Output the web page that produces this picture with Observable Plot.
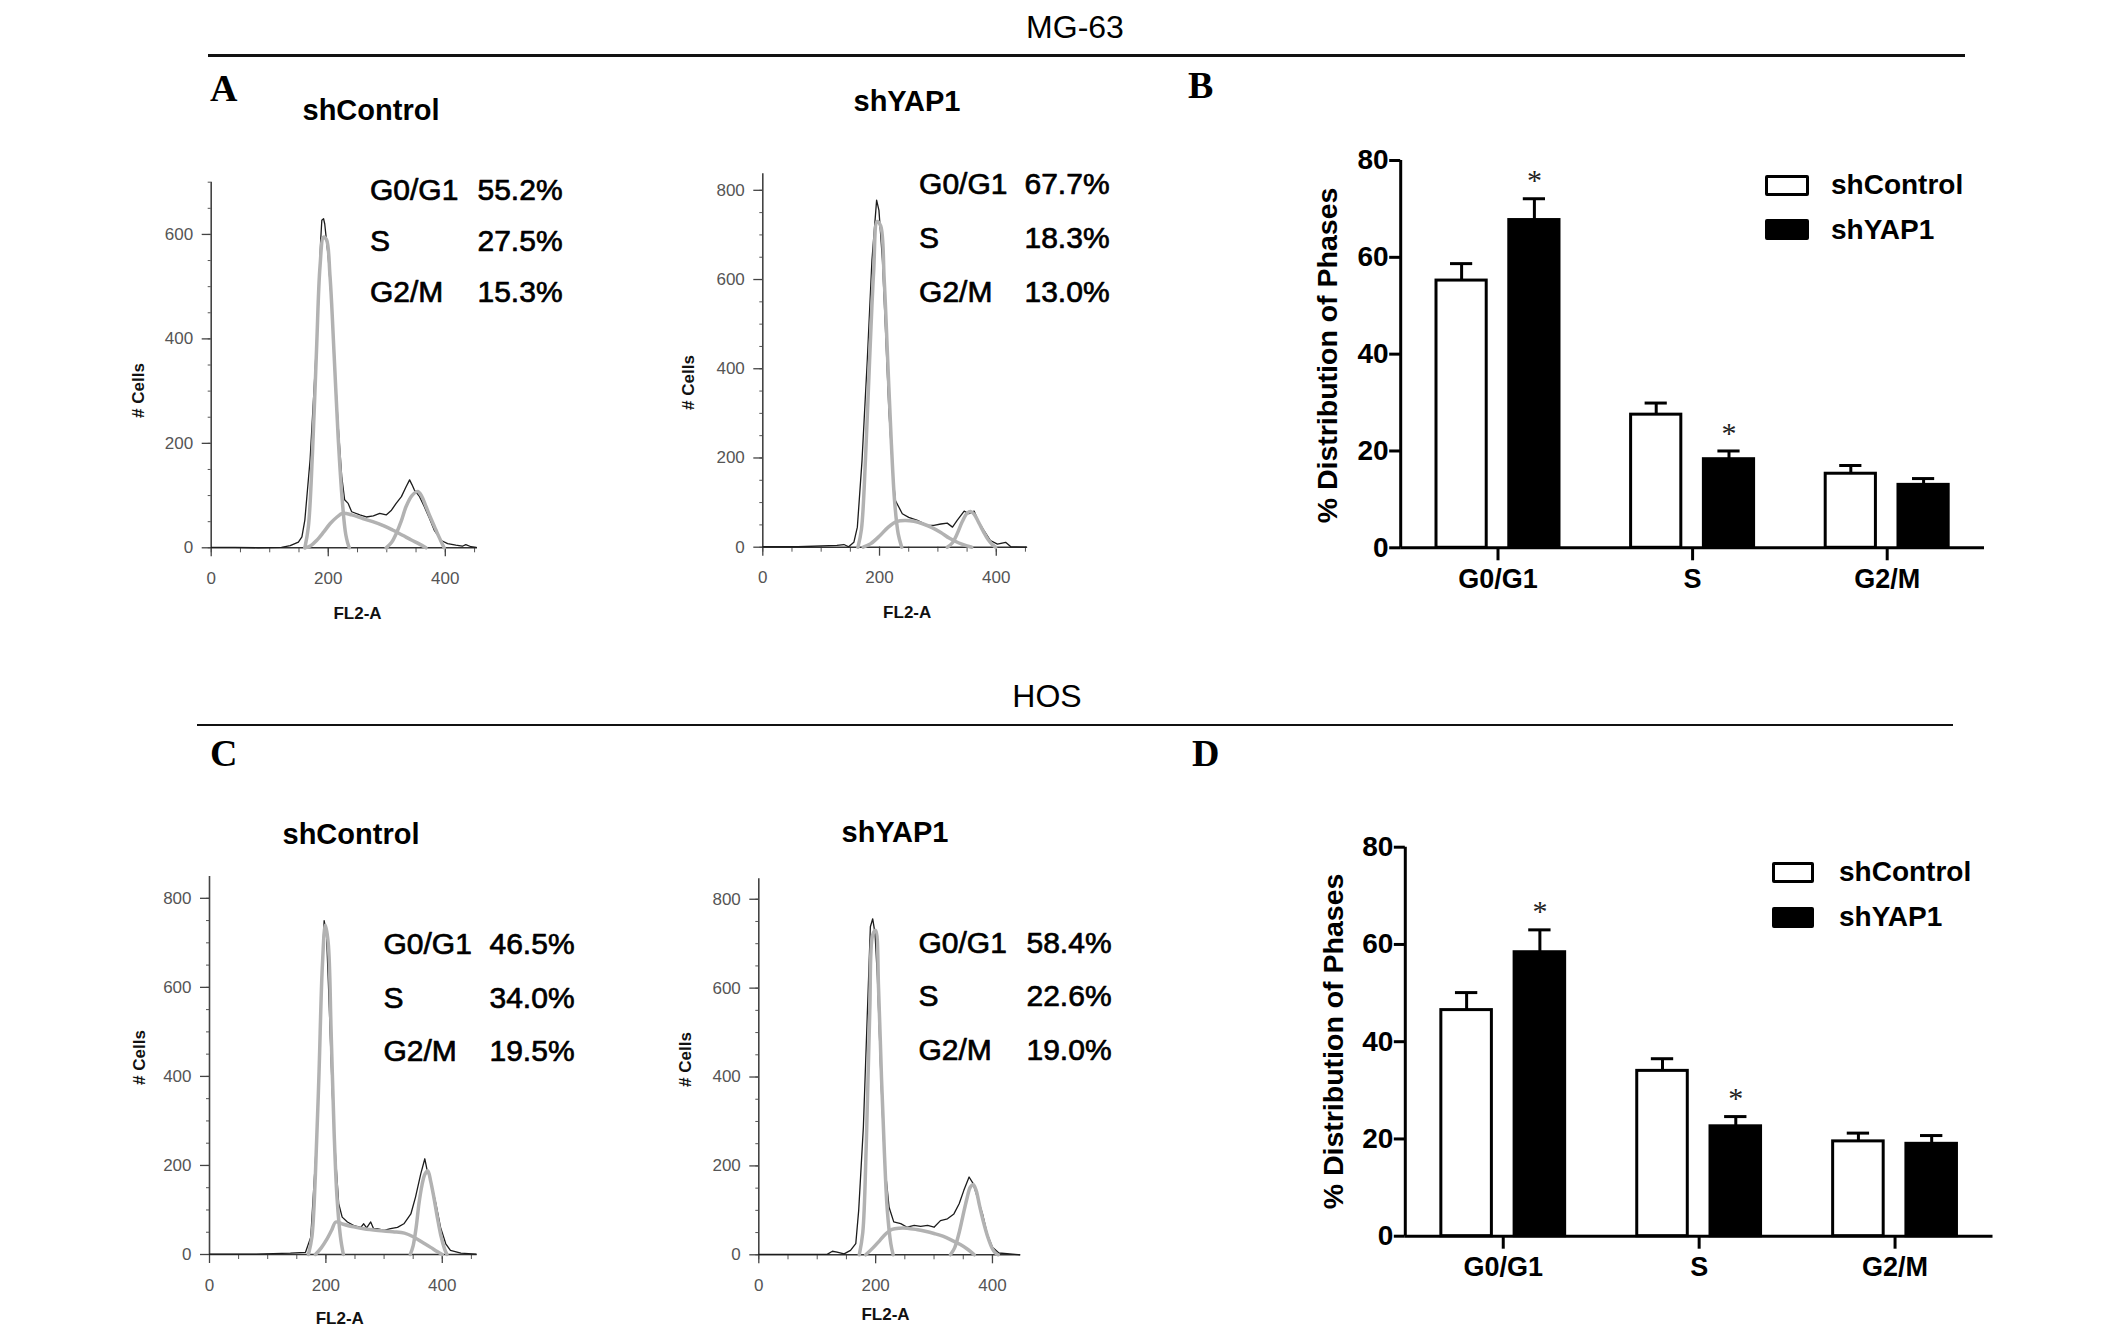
<!DOCTYPE html>
<html><head><meta charset="utf-8">
<script src="https://cdn.jsdelivr.net/npm/d3@7"></script>
<script src="https://cdn.jsdelivr.net/npm/@observablehq/plot@0.6"></script>
<style>
html,body{margin:0;padding:0;background:#fff;}
#page{position:relative;width:2126px;height:1336px;overflow:hidden;font-family:"Liberation Sans",Arial,sans-serif;color:#000;}
.abs{position:absolute;white-space:nowrap;line-height:1;}
.panel{position:absolute;}
.panel svg{overflow:visible;background:transparent;}
</style></head><body><div id="page"></div>
<script>
// ---------------- DATA ----------------
const phases = ["G0/G1", "S", "G2/M"];
const groups = ["shControl", "shYAP1"];

// MG-63 bar values (% of cells) and error bars
const mg63Control = [55.2, 27.5, 15.3];
const mg63ControlErr = [3.5, 2.4, 1.7];
const mg63YAP1 = [67.7, 18.3, 13.0];
const mg63YAP1Err = [4.4, 1.7, 1.3];
const mg63Sig = [true, true, false];

// HOS bar values
const hosControl = [46.5, 34.0, 19.5];
const hosControlErr = [3.6, 2.5, 1.7];
const hosYAP1 = [58.4, 22.6, 19.0];
const hosYAP1Err = [4.6, 2.0, 1.7];
const hosSig = [true, true, false];

// Histogram tick values
const histXTicks = [0, 200, 400];
const histYTicksA1 = [0, 200, 400, 600];
const histYTicks800 = [0, 200, 400, 600, 800];
const barYTicks = [0, 20, 40, 60, 80];

// Flow cytometry histograms [FL2-A, # cells]
const mgCtrlTotal = [[0,1],[40,1],[80,0],[120,1],[135,4],[149,11],[155,21],[160,53],[169,169],[177,330],[183,459],[187,588],[189,627],[192,630],[194,620],[200,556],[206,459],[211,350],[217,233],[223,137],[228,92],[234,85],[240,69],[254,63],[265,59],[277,61],[288,66],[299,63],[308,72],[316,85],[325,98],[333,117],[339,130],[343,121],[347,111],[356,98],[364,79],[373,56],[381,34],[393,14],[404,8],[418,5],[429,3],[435,6],[444,2],[453,1]];
const mgCtrlG1 = [[160,0],[166,40],[173,180],[180,380],[186,540],[192,595],[197,590],[203,520],[210,370],[217,210],[224,90],[230,25],[236,0]];
const mgCtrlS = [[160,0],[170,4],[180,14],[192,30],[203,46],[214,58],[225,66],[240,63],[259,56],[276,50],[293,43],[310,34],[327,24],[342,15],[356,7],[367,0]];
const mgCtrlG2 = [[299,0],[308,10],[316,27],[325,52],[333,79],[343,100],[353,108],[360,98],[367,79],[375,57],[384,34],[392,14],[398,0]];

const mgYapTotal = [[0,1],[60,1],[127,4],[139,6],[147,1],[156,11],[162,45],[170,194],[179,419],[187,643],[195,778],[199,755],[205,643],[210,494],[216,307],[222,179],[227,105],[233,90],[239,75],[250,67],[265,60],[282,49],[293,49],[305,52],[316,54],[325,45],[333,60],[345,81],[353,75],[362,81],[370,56],[379,37],[390,15],[402,7],[416,11],[425,1],[452,0]];
const mgYapG1 = [[163,0],[169,40],[176,200],[183,420],[190,620],[196,730],[202,720],[208,600],[214,420],[220,240],[226,100],[232,30],[238,0]];
const mgYapS = [[172,0],[185,8],[200,25],[215,45],[230,58],[245,60],[259,58],[275,52],[290,44],[305,33],[320,20],[335,10],[350,3],[358,0]];
const mgYapG2 = [[316,0],[325,10],[333,30],[342,58],[350,76],[356,80],[362,74],[370,55],[378,35],[386,17],[393,6],[399,0]];

const hosCtrlTotal = [[0,1],[80,1],[139,3],[165,5],[174,39],[182,211],[188,376],[192,585],[197,750],[201,720],[205,585],[211,361],[217,211],[222,114],[228,84],[237,73],[248,65],[260,61],[265,69],[270,60],[277,73],[282,58],[288,58],[300,54],[311,58],[323,61],[334,69],[346,91],[354,129],[363,181],[370,215],[374,189],[380,166],[389,114],[397,61],[406,24],[414,9],[432,3],[458,1]];
const hosCtrlG1 = [[170,0],[176,40],[182,180],[188,400],[194,650],[199,740],[204,700],[209,500],[214,280],[219,130],[225,40],[230,0]];
const hosCtrlS = [[182,0],[192,15],[202,35],[210,55],[217,73],[230,68],[248,62],[265,58],[290,54],[315,51],[335,48],[350,40],[365,28],[380,16],[392,6],[400,0]];
const hosCtrlG2 = [[345,0],[350,20],[355,60],[360,115],[365,155],[370,180],[375,188],[380,165],[386,125],[392,80],[398,40],[404,12],[408,0]];

const hosYapTotal = [[0,1],[117,1],[126,8],[134,6],[146,2],[157,10],[166,25],[171,100],[179,287],[186,550],[191,738],[195,756],[199,723],[203,625],[209,400],[215,212],[223,107],[231,74],[243,70],[254,62],[266,66],[277,64],[289,66],[300,62],[311,77],[323,81],[334,92],[343,115],[351,145],[360,175],[367,160],[374,130],[383,92],[391,47],[400,17],[411,4],[447,0]];
const hosYapG1 = [[172,0],[178,50],[184,250],[190,550],[195,720],[200,730],[205,600],[210,400],[215,230],[220,100],[226,25],[230,0]];
const hosYapS = [[183,0],[195,15],[207,32],[218,48],[228,57],[240,60],[254,60],[270,57],[285,53],[300,48],[315,42],[330,33],[345,23],[358,12],[369,0]];
const hosYapG2 = [[328,0],[335,15],[342,45],[349,85],[356,125],[362,152],[367,158],[372,145],[378,110],[385,72],[392,40],[399,16],[405,4],[410,0]];

// ---------------- LAYOUT ----------------
const page = document.getElementById("page");
const SANS = "Liberation Sans, Arial, sans-serif";
const SERIF = "Liberation Serif, Times New Roman, serif";

function textAt(txt, x, baseline, size, {weight = "normal", anchor = "start", serif = false} = {}) {
  const d = document.createElement("div");
  d.className = "abs";
  d.textContent = txt;
  d.style.fontSize = size + "px";
  d.style.fontWeight = weight;
  d.style.fontFamily = serif ? SERIF : SANS;
  d.style.top = (baseline - (serif ? 0.8375 : 0.8465) * size) + "px";
  d.style.left = x + "px";
  if (anchor === "middle") d.style.transform = "translateX(-50%)";
  page.appendChild(d);
}
function hline(x1, x2, y, h) {
  const d = document.createElement("div");
  d.className = "abs";
  Object.assign(d.style, {left: x1 + "px", top: (y - h / 2) + "px", width: (x2 - x1) + "px", height: h + "px", background: "#111"});
  page.appendChild(d);
}
function mount(box, svg) {
  const d = document.createElement("div");
  d.className = "panel";
  Object.assign(d.style, {left: box.left + "px", top: box.top + "px", width: box.w + "px", height: box.h + "px"});
  d.appendChild(svg);
  page.appendChild(d);
}
const xy = {x: d => d[0], y: d => d[1]};
const STAT_SHIFT = -17;

function histogram(c) {
  const {box, f} = c;
  const statStyle = {text: d => d, frameAnchor: "top-left", textAnchor: "start", lineAnchor: "top", dy: c.stats.top + STAT_SHIFT - f.yTop, fontSize: 30, lineHeight: c.stats.lh, fill: "#000", stroke: "#000", strokeWidth: 0.7};
  const svg = Plot.plot({
    width: box.w, height: box.h,
    marginLeft: f.x0 - box.left, marginRight: box.left + box.w - f.x1,
    marginTop: f.yTop - box.top, marginBottom: box.top + box.h - f.y0,
    style: {fontFamily: SANS, background: "transparent", overflow: "visible"},
    x: {domain: [0, c.xmax]},
    y: {domain: [0, c.ymax]},
    marks: [
      Plot.axisY({ticks: d3.range(0, c.ymax + 1, 50), tickSize: 3, tickFormat: () => "", stroke: "#555", label: null}),
      Plot.axisY({ticks: c.yTicks, tickSize: 9, tickPadding: 9, fontSize: 17, fill: "#555", stroke: "#444", strokeWidth: 1.3, label: null}),
      Plot.axisX({ticks: d3.range(0, c.xmax, 50), tickSize: 5, tickFormat: () => "", stroke: "#555", label: null}),
      Plot.axisX({ticks: histXTicks, tickSize: 9, tickPadding: 15, fontSize: 17, fill: "#555", stroke: "#444", strokeWidth: 1.3, label: null}),
      Plot.ruleX([0], {stroke: "#444", strokeWidth: 1.6}),
      Plot.ruleY([0], {stroke: "#333", strokeWidth: 1.6}),
      Plot.line(c.total, {...xy, stroke: "#1c1c1c", strokeWidth: 1.3}),
      Plot.line(c.g1, {...xy, stroke: "#b2b2b2", strokeWidth: 3.5, curve: "catmull-rom"}),
      Plot.line(c.s, {...xy, stroke: "#b2b2b2", strokeWidth: 3.5, curve: "catmull-rom"}),
      Plot.line(c.g2, {...xy, stroke: "#b2b2b2", strokeWidth: 3.5, curve: "catmull-rom"}),
      Plot.text(["# Cells"], {text: d => d, frameAnchor: "left", textAnchor: "middle", lineAnchor: "middle", dx: c.yLab[0] - f.x0, dy: c.yLab[1] - (f.yTop + f.y0) / 2, rotate: -90, fontWeight: "bold", fontSize: 17, fill: "#111"}),
      Plot.text(["FL2-A"], {text: d => d, frameAnchor: "bottom", textAnchor: "middle", lineAnchor: "middle", dx: c.xLab[0] - (f.x0 + f.x1) / 2, dy: c.xLab[1] - f.y0, fontWeight: "bold", fontSize: 17, fill: "#111"}),
      Plot.text([phases.join("\n")], {...statStyle, dx: c.stats.labelX - f.x0}),
      Plot.text([c.values.map(v => v.toFixed(1) + "%").join("\n")], {...statStyle, dx: c.stats.valueX - f.x0})
    ]
  });
  mount(box, svg);
}

const GAP = 0.058, BW = 0.258, CAP = 0.057;
function barChart(c) {
  const {box, f} = c;
  const rows = phases.flatMap((p, i) => [
    {i, phase: p, group: groups[0], value: c.ctrl[i], err: c.ctrlErr[i], sig: false},
    {i, phase: p, group: groups[1], value: c.yap[i], err: c.yapErr[i], sig: c.sig[i]}
  ]);
  const x1 = d => d.group === groups[0] ? d.i - GAP - BW : d.i + GAP;
  const xc = d => x1(d) + BW / 2;
  const top = d => d.value + d.err;
  const svg = Plot.plot({
    width: box.w, height: box.h,
    marginLeft: f.x0 - box.left, marginRight: box.left + box.w - f.x1,
    marginTop: f.yTop - box.top, marginBottom: box.top + box.h - f.y0,
    style: {fontFamily: SANS, background: "transparent", overflow: "visible"},
    x: {domain: [-0.5, 2.5]},
    y: {domain: [0, 80]},
    marks: [
      Plot.rect(rows, {x1, x2: d => x1(d) + BW, y1: 0, y2: "value", fill: d => d.group === groups[0] ? "#fff" : "#000", stroke: "#000", strokeWidth: 3}),
      Plot.ruleX(rows, {x: xc, y1: "value", y2: top, stroke: "#000", strokeWidth: 3}),
      Plot.ruleY(rows, {y: top, x1: d => xc(d) - CAP, x2: d => xc(d) + CAP, stroke: "#000", strokeWidth: 3}),
      Plot.text(rows.filter(d => d.sig), {x: xc, y: top, text: () => "*", dy: -18, fontSize: 30, fontFamily: SERIF, fill: "#222"}),
      Plot.ruleX([-0.5], {stroke: "#000", strokeWidth: 3}),
      Plot.ruleY([0], {stroke: "#000", strokeWidth: 3}),
      Plot.axisY({ticks: barYTicks, tickSize: 11, tickPadding: 1, stroke: "#000", strokeWidth: 3, fontSize: 28, fontWeight: "bold", fill: "#000", label: null}),
      Plot.axisX({ticks: [0, 1, 2], tickFormat: i => phases[i], tickSize: 13, tickPadding: 8, stroke: "#000", strokeWidth: 3, fontSize: 27, fontWeight: "bold", fill: "#000", label: null}),
      Plot.text(["% Distribution of Phases"], {text: d => d, frameAnchor: "left", textAnchor: "middle", lineAnchor: "middle", dx: c.yLab[0] - f.x0, dy: c.yLab[1] - (f.yTop + f.y0) / 2, rotate: -90, fontWeight: "bold", fontSize: 28.5, fill: "#000"})
    ]
  });
  mount(box, svg);
  // legend
  groups.forEach((g, k) => {
    const row = document.createElement("div");
    row.className = "abs";
    Object.assign(row.style, {left: c.legend.x + "px", top: (c.legend.y[k] - 16) + "px", height: "32px", display: "flex", alignItems: "center"});
    const sw = document.createElement("div");
    Object.assign(sw.style, {width: c.legend.w + "px", height: "21px", boxSizing: "border-box", border: "3px solid #000", background: k === 0 ? "#fff" : "#000", borderRadius: "2px"});
    const t = document.createElement("span");
    t.textContent = g;
    Object.assign(t.style, {marginLeft: c.legend.gap + "px", fontSize: "28px", fontWeight: "bold", fontFamily: SANS});
    row.appendChild(sw); row.appendChild(t);
    page.appendChild(row);
  });
}

// ---------------- HEADINGS ----------------
textAt("MG-63", 1075, 38, 32, {anchor: "middle"});
hline(208, 1965, 55.5, 2.2);
textAt("HOS", 1047, 707, 32, {anchor: "middle"});
hline(197, 1953, 724.7, 2.2);
textAt("A", 210, 101, 38, {weight: "bold", serif: true});
textAt("B", 1188, 98, 38, {weight: "bold", serif: true});
textAt("C", 210, 766, 38, {weight: "bold", serif: true});
textAt("D", 1192, 766, 38, {weight: "bold", serif: true});
textAt("shControl", 371, 121, 29, {weight: "bold", anchor: "middle"});
textAt("shYAP1", 907, 112, 29, {weight: "bold", anchor: "middle"});
textAt("shControl", 351, 845, 29, {weight: "bold", anchor: "middle"});
textAt("shYAP1", 895, 843, 29, {weight: "bold", anchor: "middle"});

// ---------------- PANELS ----------------
histogram({box: {left: 100, top: 140, w: 500, h: 500}, f: {x0: 210.7, x1: 477, yTop: 181.7, y0: 547.3},
  xmax: 455, ymax: 700, yTicks: histYTicksA1, total: mgCtrlTotal, g1: mgCtrlG1, s: mgCtrlS, g2: mgCtrlG2,
  values: mg63Control, stats: {labelX: 369.5, valueX: 477, top: 180.3, lh: 1.7}, yLab: [138, 390], xLab: [357, 613]});
histogram({box: {left: 650, top: 140, w: 500, h: 500}, f: {x0: 762.3, x1: 1026.7, yTop: 173.3, y0: 546.7},
  xmax: 453, ymax: 837, yTicks: histYTicks800, total: mgYapTotal, g1: mgYapG1, s: mgYapS, g2: mgYapG2,
  values: mg63YAP1, stats: {labelX: 918.6, valueX: 1024, top: 172.3, lh: 1.8}, yLab: [688, 382], xLab: [906.7, 611.7]});
histogram({box: {left: 100, top: 820, w: 500, h: 510}, f: {x0: 209, x1: 476.7, yTop: 876, y0: 1254},
  xmax: 460, ymax: 849, yTicks: histYTicks800, total: hosCtrlTotal, g1: hosCtrlG1, s: hosCtrlS, g2: hosCtrlG2,
  values: hosControl, stats: {labelX: 383, valueX: 489, top: 932.8, lh: 1.78}, yLab: [139, 1057], xLab: [339.3, 1318.3]});
histogram({box: {left: 650, top: 820, w: 500, h: 510}, f: {x0: 758.3, x1: 1020, yTop: 878.3, y0: 1254.3},
  xmax: 448, ymax: 846, yTicks: histYTicks800, total: hosYapTotal, g1: hosYapG1, s: hosYapS, g2: hosYapG2,
  values: hosYAP1, stats: {labelX: 918, valueX: 1026, top: 931.3, lh: 1.78}, yLab: [685, 1059], xLab: [885, 1314]});

barChart({box: {left: 1280, top: 120, w: 720, h: 500}, f: {x0: 1400.2, x1: 1984, yTop: 160, y0: 547.3},
  ctrl: mg63Control, ctrlErr: mg63ControlErr, yap: mg63YAP1, yapErr: mg63YAP1Err, sig: mg63Sig,
  yLab: [1327.5, 355], legend: {x: 1765, y: [185.3, 229.6], w: 44, gap: 22}});
barChart({box: {left: 1280, top: 810, w: 720, h: 500}, f: {x0: 1404.8, x1: 1992.5, yTop: 846.7, y0: 1235.7},
  ctrl: hosControl, ctrlErr: hosControlErr, yap: hosYAP1, yapErr: hosYAP1Err, sig: hosSig,
  yLab: [1333.6, 1041], legend: {x: 1772, y: [872, 917.3], w: 42, gap: 25}});
</script>
</body></html>
